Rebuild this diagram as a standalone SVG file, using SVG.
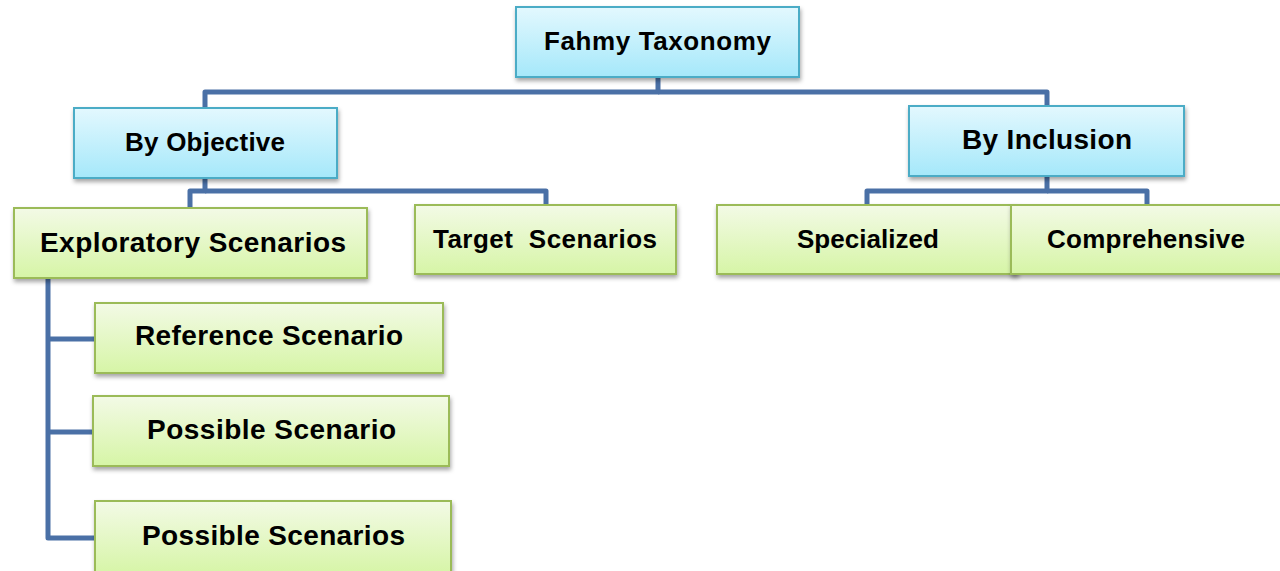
<svg xmlns="http://www.w3.org/2000/svg" width="1280" height="571" viewBox="0 0 1280 571">
<style>
.blue{fill:url(#gb);stroke:#4bacc6;stroke-width:2;filter:url(#sh)}
.green{fill:url(#gg);stroke:#9bbb59;stroke-width:2;filter:url(#sh)}
.t{font-family:"Liberation Sans",Arial,sans-serif;font-weight:bold;fill:#000;text-anchor:middle}
.c{fill:none;stroke:#4a70a6;stroke-width:5;stroke-linejoin:round}
</style>
<defs>
<linearGradient id="gb" x1="0" y1="0" x2="0" y2="1"><stop offset="0" stop-color="#e3f8fe"/><stop offset="1" stop-color="#a5e8fa"/></linearGradient>
<linearGradient id="gg" x1="0" y1="0" x2="0" y2="1"><stop offset="0" stop-color="#f3fae6"/><stop offset="1" stop-color="#d6f5a6"/></linearGradient>
<filter id="sh" x="-10%" y="-10%" width="120%" height="140%"><feDropShadow dx="1" dy="3" stdDeviation="2" flood-color="#000" flood-opacity="0.35"/></filter>
</defs>
<g id="connectors">
<path class="c" d="M658 77 V92 H205 V108"/>
<path class="c" d="M658 92 H1047 V106"/>
<path class="c" d="M205 178 V191 H190 V208"/>
<path class="c" d="M205 191 H546 V205"/>
<path class="c" d="M1047 176 V191 H867 V205"/>
<path class="c" d="M1047 191 H1147 V205"/>
<path class="c" d="M48 278 V538 H95"/>
<path class="c" d="M48 339 H95"/>
<path class="c" d="M48 432 H93"/>
</g>
<g id="n-fahmy"><rect class="blue" x="516" y="7" width="283" height="70"/><text class="t" x="657.5" y="50" font-size="26" textLength="227">Fahmy Taxonomy</text></g>
<g id="n-objective"><rect class="blue" x="74" y="108" width="263" height="70"/><text class="t" x="205" y="151" font-size="26" textLength="160">By Objective</text></g>
<g id="n-inclusion"><rect class="blue" x="909" y="106" width="275" height="70"/><text class="t" x="1047" y="149" font-size="28" textLength="170">By Inclusion</text></g>
<g id="n-exploratory"><rect class="green" x="14" y="208" width="353" height="70"/><text class="t" x="193" y="252" font-size="28" textLength="306">Exploratory Scenarios</text></g>
<g id="n-target"><rect class="green" x="415" y="205" width="261" height="69"/><text class="t" x="545" y="248" font-size="26" textLength="224" xml:space="preserve">Target  Scenarios</text></g>
<g id="n-specialized"><rect class="green" x="717" y="205" width="300" height="69"/><text class="t" x="868" y="248" font-size="26" textLength="142">Specialized</text></g>
<g id="n-comprehensive"><rect class="green" x="1011" y="205" width="275" height="69"/><text class="t" x="1146" y="248" font-size="26" textLength="198">Comprehensive</text></g>
<g id="n-reference"><rect class="green" x="95" y="303" width="348" height="70"/><text class="t" x="269" y="345" font-size="28" textLength="268">Reference Scenario</text></g>
<g id="n-possible"><rect class="green" x="93" y="396" width="356" height="70"/><text class="t" x="271.5" y="439" font-size="28" textLength="249">Possible Scenario</text></g>
<g id="n-possibles"><rect class="green" x="95" y="501" width="356" height="74"/><text class="t" x="273.5" y="545" font-size="28" textLength="263">Possible Scenarios</text></g>
</svg>
